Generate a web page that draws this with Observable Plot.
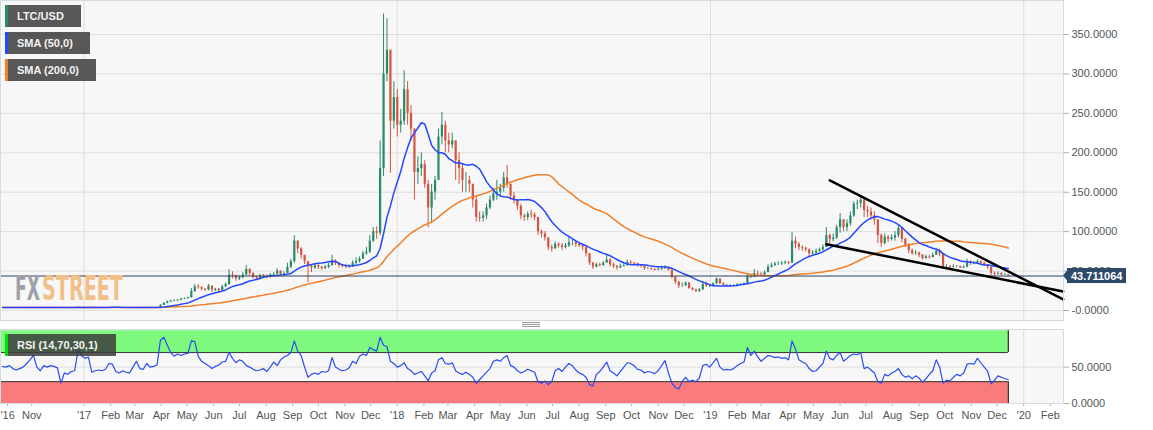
<!DOCTYPE html>
<html><head><meta charset="utf-8">
<script src="https://cdn.jsdelivr.net/npm/d3@7"></script>
<script src="https://cdn.jsdelivr.net/npm/@observablehq/plot@0.6"></script>
<style>
body{margin:0;background:#fff;font-family:"Liberation Sans",Arial,sans-serif;}
#wrap{position:relative;width:1153px;height:430px;overflow:hidden;background:#fff;}
#wrap > svg{position:absolute;left:0;}
.leg{position:absolute;left:5px;height:22px;background:rgba(60,60,60,0.85);color:#f2f2f2;font:bold 11px "Liberation Sans",Arial,sans-serif;line-height:22px;padding-left:12px;box-sizing:border-box;}
.leg i{position:absolute;left:0;top:0;width:3px;height:22px;}
#handle{position:absolute;left:522px;top:322px;width:18px;height:5px;border-top:1px solid #999;border-bottom:1px solid #999;box-sizing:border-box;}
#handle:after{content:"";position:absolute;left:0;right:0;top:1px;border-top:1px solid #999;}
</style></head><body>
<div id="wrap"></div>
<script>
// ---------- DATA (4-day buckets starting 2016-09-26) ----------
const startDate = "2016-09-26";
const stepDays = 4;
const closes = [
3.85,3.9,3.85,3.9,3.8,3.8,3.85,3.8,3.95,4.0,
3.9,3.9,3.95,3.85,3.95,3.9,3.85,3.6,3.6,3.55,
3.6,3.7,4.3,4.4,4.3,4.4,3.9,3.8,3.85,3.8,
3.85,3.9,3.85,3.8,3.75,3.85,3.8,3.75,3.8,3.95,
3.9,3.9,3.95,3.9,3.95,4.1,6.5,9,11,12,
12.5,13,14.5,15,16,24,30,29,27,26,
31,26,27,25,30,33,45,44,40,42,
45,52,47,42,40,44,43,42,45,46,
50,46,47,55,62,88,78,70,62,56,
54,57,55,53,55,57,63,60,57,56,
55,55,60,62,65,72,74,88,100,98,
180,300,330,240,270,235,240,280,250,230,
175,180,185,160,130,150,165,220,235,215,
210,215,190,180,165,165,160,140,118,117,
120,130,140,148,150,155,168,160,145,140,
132,120,118,122,121,118,100,97,92,80,
78,84,82,80,82,86,86,84,82,80,
72,60,55,58,57,60,64,58,56,54,
56,57,61,60,59,57,56,53,53,52,
51,52,53,54,51,42,36,31,31,35,
28,26,24,26,33,31,31,34,40,34,
32,32,32,32,33,33,34,43,42,47,
46,45,48,55,57,59,59,60,61,60,
88,84,80,79,77,72,73,75,77,80,
95,90,92,105,115,105,110,120,135,136,
140,127,125,120,115,95,85,93,90,92,
95,104,90,83,76,72,73,70,66,68,
67,70,75,72,56,56,55,56,56,54,
55,62,60,60,62,60,58,55,47,46,
47,45,45,43.711064];
const highs = [
3.9,3.95,3.9,3.95,3.9,3.85,3.9,3.9,4.0,4.1,
4.0,4.0,4.0,3.95,4.0,4.0,3.95,3.85,3.7,3.65,
3.65,3.8,4.5,4.6,4.5,4.6,4.4,3.9,3.9,3.9,
3.9,3.95,3.9,3.9,3.8,3.9,3.9,3.8,3.9,4.0,
4.0,4.0,4.05,4.0,4.0,4.2,7.5,10,12,13,
13.5,14,15.5,16,17,28,33,33,30,28,
33,31,28,28,32,35,52,49,45,44,
48,57,53,48,43,46,46,45,47,48,
53,50,49,60,65,95,88,80,70,62,
58,59,58,56,57,60,70,64,61,58,
58,58,63,67,68,75,80,95,105,106,
215,376,370,330,290,280,255,304,290,260,
230,195,200,190,165,160,170,230,251,240,
225,225,215,200,185,175,170,160,145,125,
125,135,145,155,165,160,175,184,160,150,
140,135,122,125,127,124,118,102,100,92,
83,87,86,85,85,93,90,88,86,83,
80,72,61,60,60,62,70,66,60,57,
59,60,64,63,61,60,58,56,55,54,
53,54,56,57,55,51,43,37,35,36,
34,29,27,28,36,36,33,35,41,40,
35,33,33,33,34,34,35,47,45,52,
50,48,50,58,60,61,62,62,63,62,
99,93,86,82,80,78,76,78,79,83,
105,97,97,108,123,115,115,125,138,140,
145,142,132,130,125,112,97,97,95,96,
100,108,104,92,85,78,76,74,71,70,
70,73,79,78,68,58,57,58,57,56,
57,65,63,62,64,63,61,58,55,49,
49,48,47,45.5];
const lows = [
3.8,3.8,3.8,3.8,3.75,3.75,3.8,3.75,3.8,3.9,
3.85,3.8,3.85,3.8,3.85,3.85,3.8,3.5,3.5,3.5,
3.5,3.6,3.7,4.2,4.2,4.1,3.8,3.6,3.7,3.75,
3.8,3.8,3.8,3.75,3.7,3.7,3.75,3.7,3.7,3.8,
3.8,3.8,3.85,3.8,3.8,3.9,4.0,6.5,8.5,10,
11,11.5,12.5,14,14.5,16,23,27,25,24,
25,23,24,23,25,29,32,40,37,38,
40,44,44,40,38,39,41,40,41,43,
45,44,44,47,53,60,72,65,58,35,
48,52,52,51,52,53,56,57,54,54,
53,53,55,58,60,66,70,72,86,90,
95,170,290,174,230,220,225,235,235,215,
140,160,170,155,105,110,140,165,210,200,
200,205,165,160,150,150,150,130,112,112,
112,115,128,138,140,145,150,155,140,135,
127,115,113,114,117,114,95,92,88,76,
74,78,79,76,78,80,82,80,80,76,
68,57,52,54,55,56,60,55,53,51,
53,55,56,58,57,55,54,51,52,51,
50,51,51,52,50,40,33,28,29,31,
27,25,23,23,26,29,29,30,33,33,
31,31,30,31,31,32,32,34,40,42,
43,43,44,48,54,56,57,57,58,58,
62,78,76,75,74,68,69,71,74,75,
80,82,87,90,98,100,100,107,118,128,
130,118,118,115,108,85,80,83,86,88,
88,92,86,80,72,70,70,67,64,65,
65,67,70,68,53,53,53,54,54,53,
53,54,57,58,59,58,56,52,44,43,
45,44,44,43];
const rsiValues = [
51,50,52,48,46,48,50,55,60,66,
50,45,52,50,52,51,49,28,42,40,
44,45,73,66,62,64,43,45,46,45,
47,55,54,44,42,45,43,42,50,58,
48,47,55,50,51,53,87,91,80,70,
65,68,66,68,69,86,85,65,58,55,
52,48,51,53,57,58,70,62,56,60,
58,52,50,47,45,46,48,44,50,57,
52,60,64,66,70,86,72,66,50,36,
40,42,40,44,43,45,63,50,47,45,
46,49,58,55,65,68,66,77,74,72,
91,80,78,58,55,50,52,56,48,45,
40,42,44,38,31,42,45,60,63,55,
54,56,45,42,40,43,40,36,28,33,
38,43,48,58,60,58,63,66,52,50,
45,42,44,47,45,43,30,28,31,26,
30,45,48,44,50,55,52,46,42,40,
36,26,24,40,44,50,57,45,42,38,
44,50,56,55,52,47,46,42,44,43,
41,45,52,59,42,28,22,20,30,36,
30,32,30,35,52,54,50,56,62,50,
46,47,46,48,52,55,57,77,66,72,
64,58,62,66,65,63,64,62,63,60,
86,75,60,57,55,48,44,45,50,55,
72,62,60,66,70,58,62,66,68,67,
70,48,50,46,42,30,28,40,38,42,
44,48,40,36,38,34,38,35,29,34,
40,45,60,50,28,32,31,36,40,38,
42,54,55,54,62,56,50,44,27,32,
38,36,34,33];
const legendNames = ["LTC/USD","SMA (50,0)","SMA (200,0)"];
const rsiName = "RSI (14,70,30,1)";
const smaPeriods = [50, 200];
const lastPriceLabel = "43.711064";
const watermarkParts = ["FX","STREET"];
const priceTicks = [0,50,100,150,200,250,300,350];
const priceTickLabels = ["-0.0000","50.0000","100.0000","150.0000","200.0000","250.0000","300.0000","350.0000"];
const rsiTicks = [0,50];
const rsiTickLabels = ["0.0000","50.0000"];
const rsiBands = [{lo:70,hi:100,fill:"#7ef97e"},{lo:0,hi:30,fill:"#fa7b7b"}];
const yearStarts = ["2017-01-01","2018-01-01","2019-01-01","2020-01-01"];
const monthTickDates = ["2016-10-04","2016-11-01",
"2017-01-01","2017-02-01","2017-03-01","2017-04-01","2017-05-01","2017-06-01","2017-07-01","2017-08-01","2017-09-01","2017-10-01","2017-11-01","2017-12-01",
"2018-01-01","2018-02-01","2018-03-01","2018-04-01","2018-05-01","2018-06-01","2018-07-01","2018-08-01","2018-09-01","2018-10-01","2018-11-01","2018-12-01",
"2019-01-01","2019-02-01","2019-03-01","2019-04-01","2019-05-01","2019-06-01","2019-07-01","2019-08-01","2019-09-01","2019-10-01","2019-11-01","2019-12-01",
"2020-01-01","2020-02-01"];
const monthTickLabels = ["'16","Nov",
"'17","Feb","Mar","Apr","May","Jun","Jul","Aug","Sep","Oct","Nov","Dec",
"'18","Feb","Mar","Apr","May","Jun","Jul","Aug","Sep","Oct","Nov","Dec",
"'19","Feb","Mar","Apr","May","Jun","Jul","Aug","Sep","Oct","Nov","Dec",
"'20","Feb"];
const trendStartDates = ["2019-05-20","2019-05-16"];
const trendEndDates = ["2020-02-16","2020-02-16"];
const trendStartValues = [165, 84];
const trendEndValues = [14, 24];
const xDomain = ["2016-09-25T15:00:00Z","2020-02-16T08:00:00Z"];

// ---------- BUILD ----------
const D = s => new Date(s.length > 10 ? s : s + "T00:00:00Z");
const DAY = 864e5;
const t0 = D(startDate);
const GREEN = "#2a8a68", RED = "#d5543f", BLUE = "#2448ff", ORANGE = "#f07f2a";
const candles = closes.map((c, i) => {
  const open = i ? closes[i-1] : c;
  return {date: new Date(+t0 + (i*stepDays + 2)*DAY), open, close: c,
    high: Math.max(highs[i], open, c), low: Math.min(lows[i], open, c), up: c >= open};
});
function sma(days){
  const n = Math.round(days/stepDays);
  return candles.map((d,i)=>({date:d.date, v:d3.mean(closes.slice(Math.max(0,i-n+1), i+1))}));
}
const sma50 = sma(smaPeriods[0]), sma200 = sma(smaPeriods[1]);
const rsiData = rsiValues.map((r,i)=>({date: candles[i].date, r}));
const trend = [];
trendStartDates.forEach((s,k)=>{
  trend.push({id:k, date:D(s), v:trendStartValues[k]});
  trend.push({id:k, date:D(trendEndDates[k]), v:trendEndValues[k]});
});
const lastClose = closes[closes.length-1];
const xd = xDomain.map(D);
const years = yearStarts.map(D);
const months = monthTickDates.map(D);
const monthLabel = new Map(months.map((d,i)=>[+d, monthTickLabels[i]]));
const lastDate = candles[candles.length-1].date;
const FONT = "Liberation Sans, Arial, sans-serif";

const main = Plot.plot({
  width:1153, height:320, marginLeft:0, marginRight:90, marginTop:0, marginBottom:0,
  style:{background:"transparent", fontFamily:FONT, fontSize:"11px", color:"#555", overflow:"visible"},
  x:{type:"utc", domain:xd, axis:null},
  y:{domain:[-12.68, 393.1], axis:null},
  marks:[
    Plot.frame({fill:"#f7f7f7", stroke:null}),
    Plot.gridY(priceTicks, {stroke:"#dedede", strokeOpacity:1}),
    Plot.gridX(years, {stroke:"#dedede", strokeOpacity:1}),
    Plot.ruleX(candles, {x:"date", y1:"low", y2:"high", stroke:d=>d.up?GREEN:RED, strokeWidth:1}),
    Plot.ruleX(candles, {x:"date", y1:"open", y2:"close", stroke:d=>d.up?GREEN:RED, strokeWidth:2.2}),
    Plot.line(sma200, {x:"date", y:"v", stroke:ORANGE, strokeWidth:1.5}),
    Plot.line(sma50, {x:"date", y:"v", stroke:BLUE, strokeWidth:1.5}),
    Plot.ruleY([lastClose], {stroke:"#2b3f5f", strokeWidth:1}),
    Plot.line(trend, {x:"date", y:"v", z:"id", stroke:"#000", strokeWidth:2.5}),
    Plot.axisY(priceTicks, {anchor:"right", tickSize:5, tickPadding:3, stroke:"#aab", fill:"#555", fontSize:11,
      tickFormat:d=>priceTickLabels[priceTicks.indexOf(d)]}),
    Plot.frame({stroke:"#d6dae6"})
  ]
});
main.style.top = "0px";
// last price marker
{
  const yy = main.scale("y").apply(lastClose);
  const g = d3.select(main).append("g").attr("text-anchor","start");
  g.append("path").attr("d", `M1063,${yy} l4,-5 v10 z`).attr("fill","#2e4a6b");
  g.append("rect").attr("x",1067).attr("y",yy-7.5).attr("width",59).attr("height",15).attr("fill","#2e4a6b");
  g.append("text").attr("x",1071).attr("y",yy+4).attr("fill","#fff").attr("text-anchor","start")
   .attr("font-family",FONT).attr("font-size",11).attr("font-weight","bold").text(lastPriceLabel);
}

const rsiPlot = Plot.plot({
  width:1153, height:110, marginLeft:0, marginRight:90, marginTop:9, marginBottom:27,
  style:{background:"transparent", fontFamily:FONT, fontSize:"11px", color:"#555", overflow:"visible"},
  x:{type:"utc", domain:xd, axis:null},
  y:{domain:[0, 101.7], axis:null},
  marks:[
    Plot.frame({fill:"#f7f7f7", stroke:null}),
    Plot.gridY([50], {stroke:"#dedede", strokeOpacity:1}),
    Plot.gridX(years, {stroke:"#dedede", strokeOpacity:1}),
    Plot.rect(rsiBands, {x1:()=>xd[0], x2:()=>lastDate, y1:"lo", y2:"hi", fill:"fill"}),
    Plot.ruleY([70,30], {x1:xd[0], x2:lastDate, stroke:"#333", strokeWidth:1}),
    Plot.ruleX(rsiBands, {x:()=>lastDate, y1:"lo", y2:"hi", stroke:"#222", strokeWidth:1.2}),
    Plot.line(rsiData, {x:"date", y:"r", stroke:"#2a4bf0", strokeWidth:1.2}),
    Plot.axisY(rsiTicks, {anchor:"right", tickSize:5, tickPadding:3, stroke:"#aab", fill:"#555", fontSize:11,
      tickFormat:d=>rsiTickLabels[rsiTicks.indexOf(d)]}),
    Plot.axisX(months, {anchor:"bottom", tickSize:3, tickPadding:5, stroke:"#aab", fill:"#555", fontSize:11,
      tickFormat:d=>monthLabel.get(+d)}),
    Plot.frame({stroke:"#d6dae6"})
  ]
});
rsiPlot.style.top = "320px";

const wrap = document.getElementById("wrap");
wrap.appendChild(main);
wrap.appendChild(rsiPlot);

// watermark (scaled horizontally to fit the reference widths)
const wm = d3.select(wrap).append("svg").attr("width",160).attr("height",40)
  .style("position","absolute").style("left","0px").style("top","268px");
const wmFont = '"DejaVu Sans Condensed","Liberation Sans Narrow","DejaVu Sans",sans-serif';
const wmSpec = [{x:15, w:25, fill:"#9ea0aa"}, {x:42, w:81, fill:"#f2bf88"}];
watermarkParts.forEach((txt,k)=>{
  const g = wm.append("g");
  const t = g.append("text").attr("x",0).attr("y",0).attr("font-family",wmFont).attr("font-weight","bold")
    .attr("font-size",34).attr("text-anchor","start").attr("fill",wmSpec[k].fill).text(txt);
  const len = t.node().getComputedTextLength() || wmSpec[k].w;
  g.attr("transform", `translate(${wmSpec[k].x},32) scale(${wmSpec[k].w/len},1)`);
});

// legends
const legColors = [GREEN, BLUE, ORANGE];
const legWidths = [76, 85, 91];
legendNames.forEach((n,i)=>{
  const d = document.createElement("div");
  d.className = "leg";
  d.style.top = (5 + i*27) + "px";
  d.style.width = legWidths[i] + "px";
  d.innerHTML = `<i style="background:${legColors[i]}"></i>${n}`;
  wrap.appendChild(d);
});
{
  const d = document.createElement("div");
  d.className = "leg";
  d.style.top = "334px";
  d.style.width = "111px";
  d.innerHTML = `<i style="background:#00e000"></i>${rsiName}`;
  wrap.appendChild(d);
}
const h = document.createElement("div"); h.id = "handle"; wrap.appendChild(h);
</script>
</body></html>
